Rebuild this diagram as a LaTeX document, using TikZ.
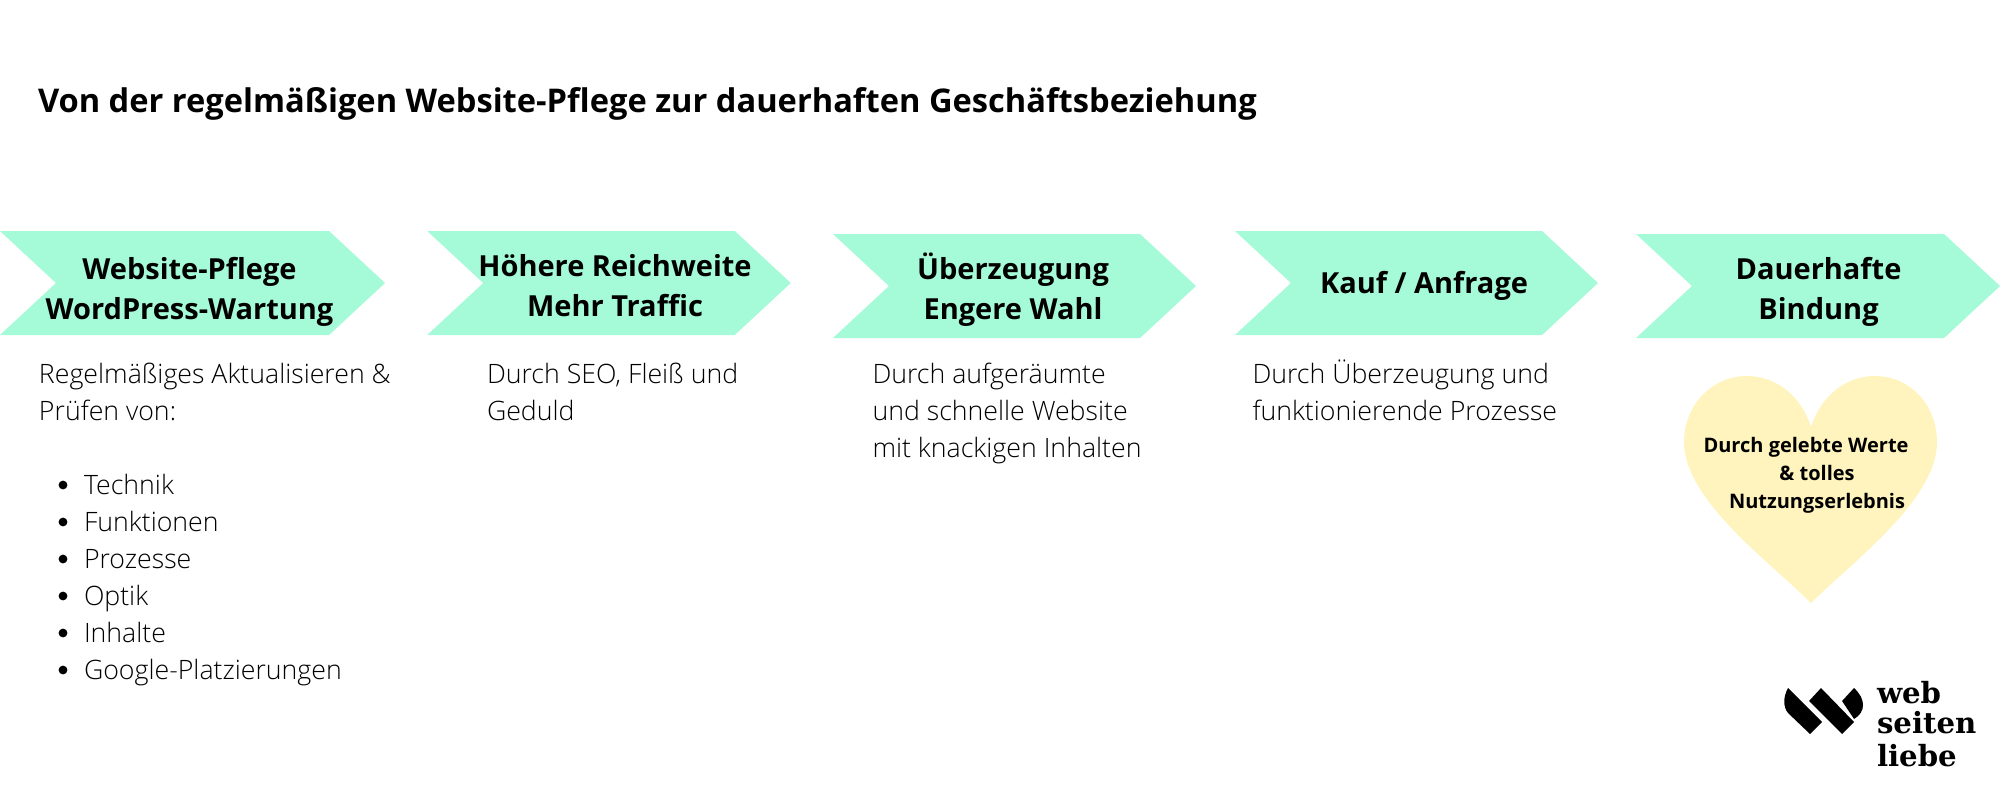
\documentclass[tikz,border=0pt]{standalone}
\usepackage{fontspec}
\setmainfont{Open Sans}
\newfontfamily\lightfont{Open Sans Light}
\newfontfamily\slabfont{DejaVu Serif}
\usetikzlibrary{shapes.symbols}
\definecolor{mint}{HTML}{A5FAD7}
\definecolor{butter}{HTML}{FFF4BD}

\begin{document}
\begin{tikzpicture}[
            x = 0.5pt, % one reference pixel
            y = -0.5pt,
            inner sep = 0pt,
            outer sep = 0pt
        ]

        \tikzset{
            chevron/.style = {
                shape = signal,
                signal from = west,
                signal to = east,
                signal pointer angle = 85.8,
                fill = mint,
                minimum height = 52pt
            },
            chevtext/.style = {
                align = center,
                font = \bfseries\fontsize{14.5}{20}\selectfont
            },
            bodytext/.style = {
                anchor = north west,
                align = left,
                font = \lightfont\fontsize{13.35}{18.5}\selectfont
            },
            listdot/.style = {
                circle,
                fill = black,
                minimum size = 4.4pt
            },
            logotext/.style = {
                anchor = base west,
                font = \slabfont\bfseries\fontsize{14.6}{15.5}\selectfont
            }
        }

        \useasboundingbox (0,0) rectangle (2000,800);

        % title
        \node[anchor=base west, font=\bfseries\fontsize{16.32}{20}\selectfont] (title) at (38,112)
            {Von der regelmäßigen Website-Pflege zur dauerhaften Geschäftsbeziehung};

        % chevrons
        \node[chevron, minimum width=192.5pt] (W) at (192.5,283) {};
        \node[chevron, minimum width=181.75pt] (R) at (609,283) {};
        \node[chevron, minimum width=181.5pt] (U) at (1014.5,286) {};
        \node[chevron, minimum width=181.5pt] (K) at (1416.5,283) {};
        \node[chevron, minimum width=182pt] (B) at (1818,286) {};

        \node[chevtext] (Wt) at (189.5,292) {Website-Pflege\\WordPress-Wartung};
        \node[chevtext] (Rt) at (615,286) {Höhere Reichweite\\Mehr Traffic};
        \node[chevtext] (Ut) at (1013,290) {Überzeugung\\Engere Wahl};
        \node[chevtext] (Kt) at (1424,285.5) {Kauf / Anfrage};
        \node[chevtext] (Bt) at (1818.5,291.5) {Dauerhafte\\Bindung};

        % body text
        \node[bodytext] (Wb) at (39,363) {Regelmäßiges Aktualisieren \&\\Prüfen von:};
        \node[bodytext] (Wl) at (84,474) {Technik\\Funktionen\\Prozesse\\Optik\\Inhalte\\Google-Platzierungen};
        \node[bodytext] (Rb) at (487,363) {Durch SEO, Fleiß und\\Geduld};
        \node[bodytext] (Ub) at (872.5,363) {Durch aufgeräumte\\und schnelle Website\\mit knackigen Inhalten};
        \node[bodytext] (Kb) at (1252.5,360) {Durch Überzeugung und\\funktionierende Prozesse};

        % list dots
        \foreach \n in {0,...,5}
            \node[listdot] (dot\n) at (63,485+37*\n) {};

        % heart
        \fill[butter] (1811,603) .. controls (1770,562) and (1684,500) .. (1684,442)
            .. controls (1684,405) and (1712,376) .. (1747,376)
            .. controls (1778,376) and (1802,398) .. (1811,427)
            .. controls (1820,398) and (1844,376) .. (1875,376)
            .. controls (1910,376) and (1937,405) .. (1937,442)
            .. controls (1937,500) and (1852,562) .. (1811,603) -- cycle;
        \node[align=center, font=\bfseries\fontsize{10}{14}\selectfont] (Ht) at (1806,475)
            {Durch gelebte Werte\\\hspace*{11pt}\& tolles\\\hspace*{11pt}Nutzungserlebnis};

        % logo
        \fill (1788,688) -- (1822,722) -- (1810,734) -- (1788,713)
            .. controls (1783,707) and (1783,697) .. cycle;
        \fill (1821,688) -- (1854,722) -- (1842,734) -- (1809,701) -- cycle;
        \fill (1854,688) .. controls (1866,699) and (1866,712) .. (1854,719) -- (1842,701) -- cycle;
        \node[logotext] (logoa) at (1877,703) {web};
        \node[logotext] (logob) at (1877,733.5) {seiten};
        \node[logotext] (logoc) at (1877,766) {liebe};

  \end{tikzpicture}
\end{document}
